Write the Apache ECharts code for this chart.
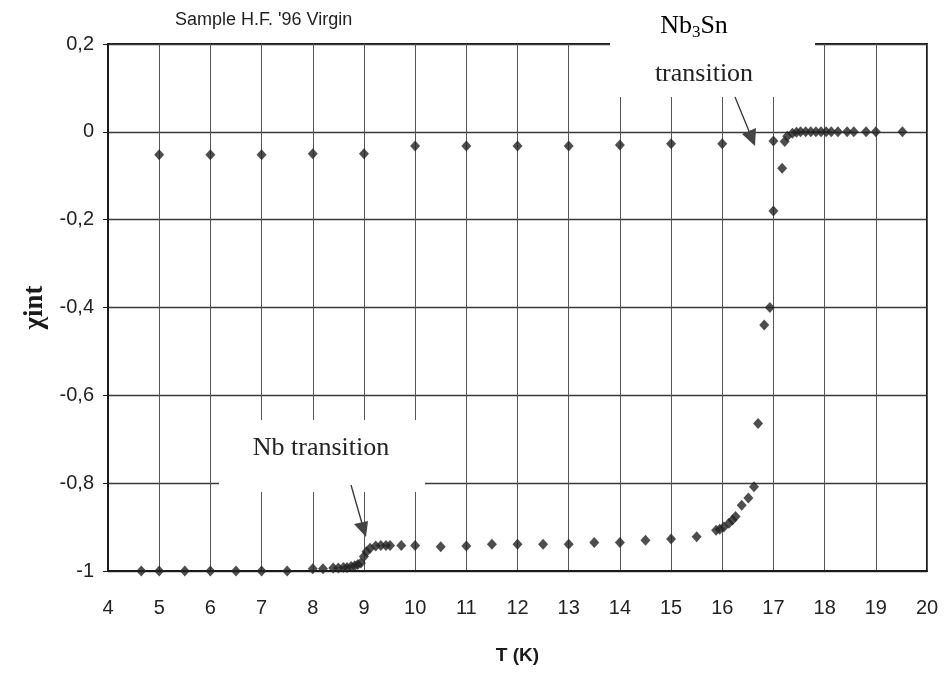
<!DOCTYPE html>
<html>
<head>
<meta charset="utf-8">
<script src="https://cdn.jsdelivr.net/npm/echarts@6/dist/echarts.min.js"></script>
<style>
html,body{margin:0;padding:0;background:#fff;}
#chart{width:945px;height:673px;}
</style>
</head>
<body>
<div id="chart"></div>
<script>
// Upper row (points just below zero, 5 K .. 16 K)
const upperT   = [5, 6, 7, 8, 9, 10, 11, 12, 13, 14, 15, 16];
const upperChi = [-0.052, -0.052, -0.052, -0.05, -0.05, -0.032, -0.032, -0.032, -0.032, -0.03, -0.027, -0.027];

// Main transition curve
const mainT = [4.65, 5.0, 5.5, 6.0, 6.5, 7.0, 7.5, 8.0, 8.2, 8.4, 8.5, 8.6, 8.67, 8.75, 8.82, 8.88, 8.94,
  9.0, 9.05, 9.12, 9.23, 9.33, 9.43, 9.51, 9.73, 10.0, 10.5, 11.0, 11.5, 12.0, 12.5, 13.0, 13.5, 14.0, 14.5,
  15.0, 15.5, 15.88, 15.95, 16.03, 16.13, 16.2, 16.26, 16.38, 16.51, 16.62, 16.7, 16.82, 16.93, 17.0, 17.0,
  17.17, 17.22, 17.27, 17.37, 17.45, 17.53, 17.63, 17.73, 17.83, 17.93, 18.03, 18.13, 18.26, 18.44, 18.57,
  18.81, 19.0, 19.52];
const mainChi = [-1.0, -1.0, -1.0, -1.0, -1.0, -1.0, -1.0, -0.995, -0.995, -0.993, -0.993, -0.992, -0.992, -0.99, -0.988, -0.985, -0.982,
  -0.967, -0.956, -0.948, -0.943, -0.942, -0.942, -0.942, -0.942, -0.942, -0.945, -0.943, -0.939, -0.939, -0.939, -0.939, -0.935, -0.935, -0.93,
  -0.927, -0.922, -0.907, -0.905, -0.9, -0.891, -0.884, -0.876, -0.85, -0.834, -0.808, -0.664, -0.44, -0.40, -0.18, -0.021,
  -0.083, -0.022, -0.01, -0.003, -0.001, 0, 0, 0, 0, 0, 0, 0, 0, 0, 0,
  0, 0, 0];

// Axis settings
const xTicks = {min: 4, max: 20, interval: 1};
const yTicks = {min: -1, max: 0.2, interval: 0.2};

const pair = (xs, ys) => xs.map((x, i) => [x, ys[i]]);

const chart = echarts.init(document.getElementById('chart'), null, {renderer: 'canvas'});

const markerStyle = {color: '#222'};

const option = {
  animation: false,
  backgroundColor: '#ffffff',
  grid: {left: 108, right: 18, top: 44, bottom: 102, show: true, borderColor: '#1a1a1a', borderWidth: 2, backgroundColor: 'transparent'},
  xAxis: {
    type: 'value', min: xTicks.min, max: xTicks.max, interval: xTicks.interval,
    name: 'T (K)', nameLocation: 'middle', nameGap: 75,
    nameTextStyle: {fontFamily: 'Liberation Sans', fontWeight: 'bold', fontSize: 19, color: '#1a1a1a'},
    axisLine: {show: true, onZero: false, lineStyle: {color: '#1a1a1a', width: 2}},
    axisTick: {show: false},
    axisLabel: {fontFamily: 'Liberation Sans', fontSize: 20, color: '#222', margin: 27},
    splitLine: {show: true, lineStyle: {color: '#555', width: 1}}
  },
  yAxis: {
    type: 'value', min: yTicks.min, max: yTicks.max, interval: yTicks.interval,
    name: 'χint', nameLocation: 'middle', nameGap: 57, nameRotate: 90,
    nameTextStyle: {fontFamily: 'Liberation Serif', fontWeight: 'bold', fontSize: 27, color: '#1a1a1a'},
    axisLine: {show: true, onZero: false, lineStyle: {color: '#1a1a1a', width: 2}},
    axisTick: {show: true, inside: false, length: 5, lineStyle: {color: '#1a1a1a', width: 1}},
    axisLabel: {
      fontFamily: 'Liberation Sans', fontSize: 20, color: '#222', margin: 14,
      formatter: v => {
        const r = Math.round(v * 10) / 10;
        if (Number.isInteger(r)) return String(r);
        return r.toFixed(1).replace('.', ',');
      }
    },
    splitLine: {show: true, lineStyle: {color: '#3a3a3a', width: 1.3}}
  },
  series: [
    {type: 'scatter', z: 5, symbol: 'diamond', symbolSize: [10, 11], itemStyle: markerStyle, data: pair(upperT, upperChi)},
    {type: 'scatter', z: 5, symbol: 'diamond', symbolSize: [10, 11], itemStyle: markerStyle, data: pair(mainT, mainChi)}
  ],
  graphic: [
    // subtitle
    {type: 'text', z: 6, left: 175, top: 11, style: {text: "Sample H.F. '96 Virgin", font: '18px "Liberation Sans"', fill: '#222'}},
    // Nb3Sn annotation box
    {type: 'rect', z: 3, shape: {x: 610, y: 0, width: 205, height: 97}, style: {fill: '#ffffff'}},
    {type: 'text', z: 6, x: 694, y: 26, style: {
      text: '{a|Nb}{s|3}{a|Sn}', align: 'center', verticalAlign: 'middle',
      rich: {
        a: {fontFamily: 'Liberation Serif', fontSize: 26, color: '#222', lineHeight: 30},
        s: {fontFamily: 'Liberation Serif', fontSize: 17, color: '#222', lineHeight: 22, verticalAlign: 'bottom'}
      }
    }},
    {type: 'text', z: 6, x: 704, y: 74, style: {text: 'transition', align: 'center', verticalAlign: 'middle', font: '26px "Liberation Serif"', fill: '#222'}},
    {type: 'line', z: 6, shape: {x1: 735, y1: 97, x2: 751, y2: 136}, style: {stroke: '#333', lineWidth: 1.3}},
    {type: 'polygon', z: 6, shape: {points: [[755, 146], [742, 134], [756, 128]]}, style: {fill: '#444'}},
    // Nb annotation box
    {type: 'rect', z: 3, shape: {x: 219, y: 420, width: 206, height: 72}, style: {fill: '#ffffff'}},
    {type: 'text', z: 6, x: 321, y: 448, style: {text: 'Nb transition', align: 'center', verticalAlign: 'middle', font: '26px "Liberation Serif"', fill: '#222'}},
    {type: 'line', z: 6, shape: {x1: 351, y1: 485, x2: 363, y2: 527}, style: {stroke: '#333', lineWidth: 1.3}},
    {type: 'polygon', z: 6, shape: {points: [[366, 537], [354, 524], [368, 521]]}, style: {fill: '#444'}}
  ]
};
chart.setOption(option);
</script>
</body>
</html>
